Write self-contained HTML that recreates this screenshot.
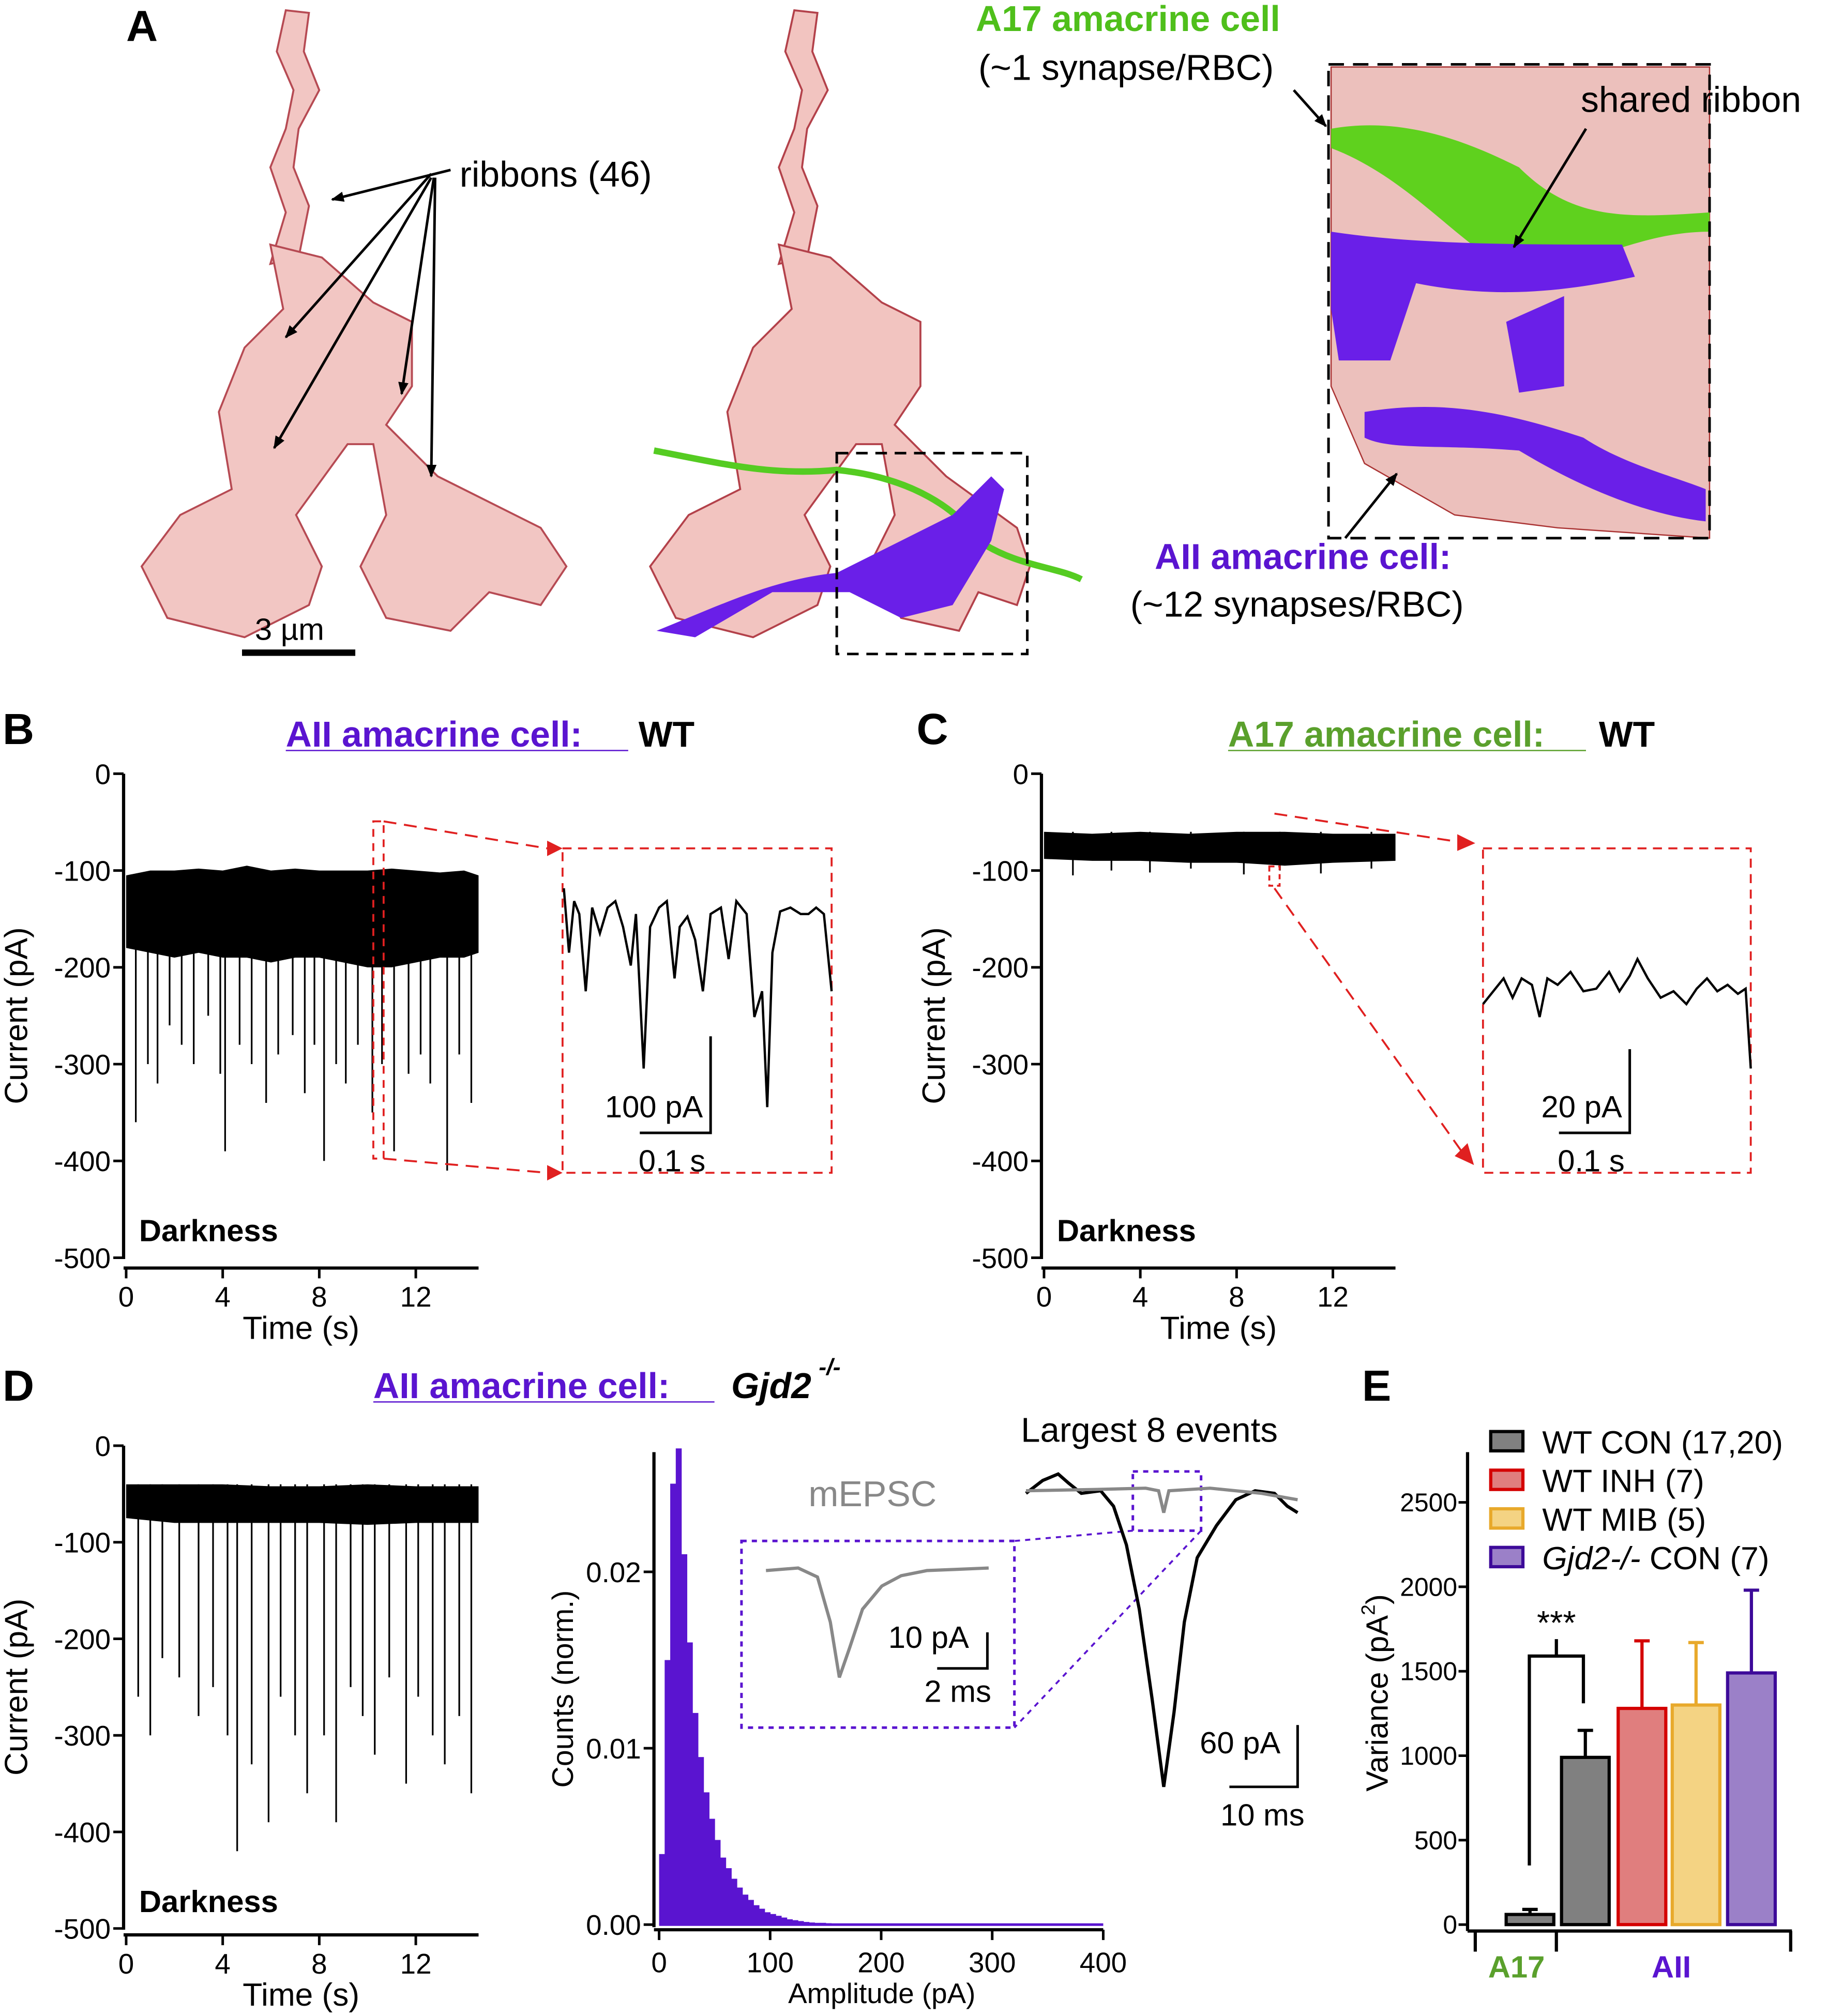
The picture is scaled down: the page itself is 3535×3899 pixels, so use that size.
<!DOCTYPE html>
<html><head><meta charset="utf-8"><style>
html,body{margin:0;padding:0;background:#fff}
svg{display:block}
text{font-family:"Liberation Sans",Arial,sans-serif;fill:#000}
</style></head><body>
<svg id="fig" xmlns="http://www.w3.org/2000/svg" width="3535" height="3899" viewBox="0 0 1420 1566" preserveAspectRatio="none">
<defs><marker id="ah" markerWidth="10" markerHeight="8" refX="9" refY="4" orient="auto" markerUnits="userSpaceOnUse"><path d="M0,0 L10,4 L0,8 Z" fill="#000"/></marker></defs>
<rect width="1420" height="1566" fill="#fff"/>
<g>
<text x="98" y="32" font-size="34" font-weight="bold">A</text>
<g fill="#f2c4c0" stroke="#b3414a" stroke-width="1.5" opacity="0.95">
<path d="M222,8 L240,10 L236,40 L248,70 L232,100 L228,130 L240,160 L232,200 L210,205 L222,165 L210,130 L222,100 L228,70 L215,40 Z"/>
<path d="M210,190 L250,200 L290,235 L320,250 L320,300 L300,330 L340,370 L420,410 L440,440 L420,470 L380,460 L350,490 L300,480 L280,440 L300,400 L290,345 L270,345 L230,400 L250,440 L240,470 L190,495 L130,480 L110,440 L140,400 L180,380 L170,320 L190,270 L220,240 Z"/>
</g>
<g stroke="#000" stroke-width="2" fill="none">
<line x1="350" y1="132" x2="258" y2="155" marker-end="url(#ah)"/><line x1="335" y1="135" x2="222" y2="262" marker-end="url(#ah)"/><line x1="335" y1="138" x2="213" y2="348" marker-end="url(#ah)"/><line x1="337" y1="138" x2="312" y2="306" marker-end="url(#ah)"/><line x1="338" y1="138" x2="335" y2="370" marker-end="url(#ah)"/>
</g>
<text x="357" y="145" font-size="28">ribbons (46)</text>
<line x1="188" y1="507" x2="276" y2="507" stroke="#000" stroke-width="5"/>
<text x="198" y="497" font-size="24">3 µm</text>
<g fill="#f2c4c0" stroke="#b3414a" stroke-width="1.5">
<path d="M617,8 L635,10 L631,40 L643,70 L627,100 L623,130 L635,160 L627,200 L605,205 L617,165 L605,130 L617,100 L623,70 L610,40 Z"/>
<path d="M605,190 L645,200 L685,235 L715,250 L715,300 L695,330 L735,370 L790,410 L800,440 L790,470 L760,460 L745,490 L700,480 L675,440 L695,400 L685,345 L665,345 L625,400 L645,440 L635,470 L585,495 L525,480 L505,440 L535,400 L575,380 L565,320 L585,270 L615,240 Z"/>
</g>
<path d="M508,350 C560,360 600,370 650,365 C700,370 740,390 760,420 C790,440 820,440 840,450" stroke="#55cc22" stroke-width="5" fill="none"/>
<path d="M510,490 C560,470 600,450 650,445 L700,420 L740,400 L770,370 L780,380 L770,420 L740,470 L700,480 L660,460 L600,460 L540,495 Z" fill="#6a1fe8"/>
<rect x="650" y="352" width="148" height="156" fill="none" stroke="#000" stroke-width="2" stroke-dasharray="9,6"/>
<g>
<path d="M1034,52 L1328,52 L1328,418 L1210,410 L1130,400 L1060,360 L1034,300 Z" fill="#ecc0bc" stroke="#a33" stroke-width="1"/>
<path d="M1034,100 C1090,90 1140,110 1180,130 C1220,170 1260,170 1328,165 L1328,180 C1270,180 1230,210 1180,210 C1140,200 1100,140 1034,115 Z" fill="#5fd11e"/>
<path d="M1034,180 C1100,190 1180,190 1260,190 L1270,215 C1200,230 1150,230 1100,220 L1080,280 L1040,280 L1034,240 Z" fill="#6a1fe8"/>
<path d="M1060,320 C1120,310 1170,320 1230,340 C1260,360 1300,370 1325,380 L1325,405 C1280,400 1230,380 1180,350 C1120,345 1080,350 1060,340 Z" fill="#6a1fe8"/>
<path d="M1170,250 L1215,230 L1215,300 L1180,305 Z" fill="#6a1fe8"/>
</g>
<rect x="1032" y="50" width="296" height="368" fill="none" stroke="#000" stroke-width="2" stroke-dasharray="12,7"/>
<text x="758" y="24" font-size="28" font-weight="bold" style="fill:#4fbf1b">A17 amacrine cell</text>
<text x="760" y="62" font-size="28">(~1 synapse/RBC)</text>
<line x1="1005" y1="70" x2="1030" y2="98" stroke="#000" stroke-width="2" marker-end="url(#ah)"/>
<text x="1228" y="87" font-size="28">shared ribbon</text>
<line x1="1232" y1="100" x2="1176" y2="192" stroke="#000" stroke-width="2" marker-end="url(#ah)"/>
<text x="897" y="442" font-size="28" font-weight="bold" style="fill:#5a14d0">AII amacrine cell:</text>
<text x="878" y="479" font-size="28">(~12 synapses/RBC)</text>
<line x1="1045" y1="418" x2="1085" y2="368" stroke="#000" stroke-width="2" marker-end="url(#ah)"/>
</g>
<g id="charts"></g>
</svg>
<script>
const NS='http://www.w3.org/2000/svg';
const root=document.getElementById('charts');
function mk(tag,attrs,name,parent){const e=document.createElementNS(NS,tag);for(const k in attrs)e.setAttribute(k,attrs[k]);


(parent||root).appendChild(e);return e;}
function txt(x,y,s,size,name,opt){const e=mk('text',Object.assign({x:x,y:y,'font-size':size},opt||{}),name);e.textContent=s;return e;}

const timeTicks=[0,4,8,12];
const currentTicks=[0,-100,-200,-300,-400,-500];
const bandTimesB=[0,1,2,3,4,5,6,7,8,9,10,11,12,13,14,14.6];
const bandTopB=[-105,-100,-100,-98,-100,-95,-100,-98,-100,-100,-100,-98,-100,-102,-100,-105];
const bandBotB=[-180,-185,-190,-185,-190,-190,-195,-190,-190,-195,-200,-200,-195,-190,-190,-185];
const eventTimesB=[0.4,0.9,1.3,1.8,2.3,2.8,3.4,3.9,4.1,4.7,5.2,5.8,6.3,6.9,7.4,7.8,8.2,8.7,9.1,9.6,10.2,10.6,11.1,11.7,12.2,12.6,13.3,13.8,14.3];
const eventAmpB=[-360,-300,-320,-260,-280,-300,-250,-310,-390,-280,-300,-340,-290,-270,-330,-280,-400,-300,-320,-280,-350,-300,-390,-310,-290,-320,-410,-290,-340];
const bandTimesC=[0,2,4,6,8,10,12,14.6];
const bandTopC=[-60,-62,-60,-62,-60,-60,-62,-62];
const bandBotC=[-88,-90,-90,-92,-92,-95,-92,-90];
const eventTimesC=[1.2,2.8,4.4,6.1,8.3,9.8,11.5,13.6];
const eventAmpC=[-105,-100,-102,-98,-104,-100,-103,-98];
const bandTimesD=[0,2,4,6,8,10,12,14.6];
const bandTopD=[-40,-40,-40,-42,-42,-40,-42,-42];
const bandBotD=[-75,-80,-80,-80,-80,-82,-80,-80];
const eventTimesD=[0.5,1.0,1.5,2.2,3.0,3.6,4.2,4.6,5.2,5.9,6.4,7.0,7.5,8.2,8.7,9.3,9.8,10.3,10.9,11.6,12.1,12.7,13.2,13.8,14.3];
const eventAmpD=[-260,-300,-220,-240,-280,-250,-300,-420,-330,-390,-260,-300,-360,-300,-390,-250,-280,-320,-240,-350,-260,-300,-330,-280,-360];
const histBinWidth=5;
const histCounts=[0.004,0.015,0.025,0.027,0.021,0.016,0.012,0.0095,0.0075,0.006,0.0048,0.0038,0.0032,0.0026,0.0021,0.0017,0.0014,0.0011,0.0009,0.0007,0.0006,0.0005,0.0004,0.0003,0.00025,0.0002,0.00015,0.00012,0.0001,0.0001,0.00008,0.00006];
const histXTicks=[0,100,200,300,400];
const histYTicks=[0,0.01,0.02];
const barLabels=['WT CON (17,20)','WT INH (7)','WT MIB (5)','Gjd2-/- CON (7)'];
const barValues=[60,990,1280,1300,1490];
const barErrors=[30,160,400,370,490];
const barFills=['#808080','#808080','#e07e7e','#f4d383','#9b80c8'];
const barStrokes=['#000','#000','#d40000','#e8a92b','#3d0a99'];
const varTicks=[0,500,1000,1500,2000,2500];

function tracePanel(opt){
  const g=mk('g',{},opt.name);
  const xs=t=>opt.x0+t*opt.pxs, ys=v=>opt.y0+(-v)*opt.pxpa;
  mk('line',{x1:opt.ax,y1:ys(0),x2:opt.ax,y2:ys(-500)+1,stroke:'#000','stroke-width':2.5},'y-axis',g);
  mk('line',{x1:opt.ax,y1:opt.xaxY,x2:xs(14.6),y2:opt.xaxY,stroke:'#000','stroke-width':2.5},'x-axis',g);
  currentTicks.forEach(v=>{mk('line',{x1:opt.ax-8,y1:ys(v),x2:opt.ax,y2:ys(v),stroke:'#000','stroke-width':2},'y-tick',g);
    const t=txt(opt.ax-10,ys(v)+8,String(v),22,'y-tick-label');t.setAttribute('text-anchor','end');});
  timeTicks.forEach(v=>{mk('line',{x1:xs(v),y1:opt.xaxY,x2:xs(v),y2:opt.xaxY+8,stroke:'#000','stroke-width':2},'x-tick',g);
    const t=txt(xs(v),opt.xaxY+30,String(v),22,'x-tick-label');t.setAttribute('text-anchor','middle');});
  const xt=txt((opt.ax+xs(14.6))/2,opt.xaxY+55,'Time (s)',25,'x-axis-title');xt.setAttribute('text-anchor','middle');
  const ymid=(ys(0)+ys(-500))/2;
  const yt=txt(opt.ax-75,ymid,'Current (pA)',25,'y-axis-title',{transform:'rotate(-90 '+(opt.ax-75)+' '+ymid+')'});
  yt.setAttribute('text-anchor','middle');
  txt(opt.ax+12,ys(-483),'Darkness',24,'darkness-label',{'font-weight':'bold'});
  let d='';opt.bt.forEach((t,i)=>{d+=(i?'L':'M')+xs(t)+','+ys(opt.top[i]);});
  for(let i=opt.bt.length-1;i>=0;i--)d+='L'+xs(opt.bt[i])+','+ys(opt.bot[i]);
  mk('path',{d:d+'Z',fill:'#000'},'trace-band',g);
  opt.et.forEach((t,i)=>mk('line',{x1:xs(t),y1:ys(opt.top[0]),x2:xs(t),y2:ys(opt.ea[i]),stroke:'#000','stroke-width':1.3},'trace-event',g));
  return {xs,ys};
}
tracePanel({name:'panel-b-trace',x0:98,pxs:18.75,y0:601,pxpa:0.752,ax:96,xaxY:985,bt:bandTimesB,top:bandTopB,bot:bandBotB,et:eventTimesB,ea:eventAmpB});
tracePanel({name:'panel-c-trace',x0:811,pxs:18.7,y0:601,pxpa:0.752,ax:809,xaxY:985,bt:bandTimesC,top:bandTopC,bot:bandBotC,et:eventTimesC,ea:eventAmpC});
tracePanel({name:'panel-d-trace',x0:98,pxs:18.75,y0:1123,pxpa:0.75,ax:96,xaxY:1503,bt:bandTimesD,top:bandTopD,bot:bandBotD,et:eventTimesD,ea:eventAmpD});

txt(2,578,'B',34,'panel-b-label',{'font-weight':'bold'});
txt(712,578,'C',34,'panel-c-label',{'font-weight':'bold'});
txt(2,1088,'D',34,'panel-d-label',{'font-weight':'bold'});
txt(1058,1088,'E',34,'panel-e-label',{'font-weight':'bold'});
txt(222,580,'AII amacrine cell:',28,'panel-b-title',{'font-weight':'bold',style:'fill:#5a14d0'});
txt(496,580,'WT',28,'panel-b-genotype',{'font-weight':'bold'});
mk('line',{x1:222,y1:583,x2:488,y2:583,stroke:'#5a14d0','stroke-width':1},'title-underline');
txt(954,580,'A17 amacrine cell:',28,'panel-c-title',{'font-weight':'bold',style:'fill:#5aa02c'});
txt(1242,580,'WT',28,'panel-c-genotype',{'font-weight':'bold'});
mk('line',{x1:954,y1:583,x2:1232,y2:583,stroke:'#5aa02c','stroke-width':1},'title-underline');
txt(290,1086,'AII amacrine cell:',28,'panel-d-title',{'font-weight':'bold',style:'fill:#5a14d0'});
txt(568,1086,'Gjd2',28,'panel-d-genotype',{'font-weight':'bold','font-style':'italic'});
txt(636,1068,'-/-',18,'panel-d-genotype-sup',{'font-weight':'bold','font-style':'italic'});
mk('line',{x1:290,y1:1089,x2:555,y2:1089,stroke:'#5a14d0','stroke-width':1},'title-underline');

function inset(x1,y1,x2,y2,name,pts,sbx,sby,sbh,sl1){
  mk('rect',{x:x1,y:y1,width:x2-x1,height:y2-y1,fill:'none',stroke:'#e02020','stroke-width':1.5,'stroke-dasharray':'7,5'},name+'-box');
  mk('polyline',{points:pts,fill:'none',stroke:'#000','stroke-width':1.8},name+'-trace');
  mk('path',{d:'M'+sbx+','+(sby-sbh)+'V'+sby+'H'+(sbx-55),fill:'none',stroke:'#000','stroke-width':2},name+'-scale-bar');
  const a=txt(sbx-6,sby-12,sl1,24,name+'-scale-amp');a.setAttribute('text-anchor','end');
  txt(sbx-56,sby+30,'0.1 s',24,name+'-scale-time');
}
inset(437,659,646,911,'inset-b','438,690 442,740 446,700 450,710 455,770 460,705 466,725 472,705 478,700 484,720 490,750 494,710 500,830 505,720 512,705 518,700 524,760 528,720 534,712 540,730 546,770 552,710 560,705 566,745 572,700 580,710 586,790 592,770 596,860 600,740 606,708 614,705 622,710 628,710 634,705 640,710 646,770',552,880,75,'100 pA');
inset(1152,659,1360,911,'inset-c','1152,780 1160,770 1168,760 1175,775 1182,760 1190,765 1196,790 1202,760 1210,765 1220,755 1230,770 1240,768 1250,755 1258,770 1266,758 1272,745 1280,760 1290,775 1300,770 1310,780 1318,768 1326,760 1334,770 1342,765 1350,772 1356,768 1360,830',1266,880,65,'20 pA');
mk('path',{d:'M290,638 L298,638 L298,900 L290,900 Z',fill:'none',stroke:'#e02020','stroke-width':1.5,'stroke-dasharray':'6,5'},'zoom-region-b');
mk('path',{d:'M298,638 L425,659 M298,900 L425,911',fill:'none',stroke:'#e02020','stroke-width':1.5,'stroke-dasharray':'10,6'},'zoom-lines-b');
mk('path',{d:'M425,653 L437,659 L425,665Z M425,905 L437,911 L425,917Z',fill:'#e02020'},'zoom-arrowheads-b');
mk('rect',{x:986,y:673,width:8,height:15,fill:'none',stroke:'#e02020','stroke-width':1.5,'stroke-dasharray':'4,3'},'zoom-region-c');
mk('path',{d:'M990,632 L1140,655 M990,690 L1138,898',fill:'none',stroke:'#e02020','stroke-width':1.5,'stroke-dasharray':'10,6'},'zoom-lines-c');
mk('path',{d:'M1132,648 L1146,655 L1132,661Z M1130,898 L1145,905 L1140,888Z',fill:'#e02020'},'zoom-arrowheads-c');

(function(){
  const hx=v=>512+v*0.8625, hy=v=>1495-v*13700;
  const g=mk('g',{},'histogram');
  histCounts.forEach((c,i)=>{mk('rect',{x:hx(i*histBinWidth),y:hy(c),width:hx(histBinWidth)-hx(0)+0.3,height:hy(0)-hy(c),fill:'#5a14d0'},'hist-bar',g);});
  mk('line',{x1:hx(0),y1:hy(0),x2:hx(400),y2:hy(0),stroke:'#5a14d0','stroke-width':2},'hist-tail',g);
  mk('line',{x1:508,y1:1128,x2:508,y2:1497,stroke:'#000','stroke-width':2.5},'hist-y-axis',g);
  mk('line',{x1:508,y1:1499,x2:hx(400),y2:1499,stroke:'#000','stroke-width':2.5},'hist-x-axis',g);
  histYTicks.forEach(v=>{mk('line',{x1:500,y1:hy(v),x2:508,y2:hy(v),stroke:'#000','stroke-width':2},'hist-y-tick',g);
    const t=txt(498,hy(v)+8,v.toFixed(2),22,'hist-y-tick-label');t.setAttribute('text-anchor','end');});
  histXTicks.forEach(v=>{mk('line',{x1:hx(v),y1:1499,x2:hx(v),y2:1507,stroke:'#000','stroke-width':2},'hist-x-tick',g);
    const t=txt(hx(v),1532,String(v),22,'hist-x-tick-label');t.setAttribute('text-anchor','middle');});
  const xt=txt(685,1556,'Amplitude (pA)',22,'hist-x-axis-title');xt.setAttribute('text-anchor','middle');
  const yt=txt(445,1312,'Counts (norm.)',23,'hist-y-axis-title',{transform:'rotate(-90 445 1312)'});yt.setAttribute('text-anchor','middle');
})();
txt(628,1170,'mEPSC',28,'mepsc-label',{style:'fill:#888'});
txt(793,1120,'Largest 8 events',27,'largest-events-label');
mk('rect',{x:576,y:1197,width:212,height:145,fill:'none',stroke:'#5a14d0','stroke-width':2,'stroke-dasharray':'4,4'},'mepsc-zoom-box');
mk('rect',{x:880,y:1143,width:53,height:46,fill:'none',stroke:'#5a14d0','stroke-width':2,'stroke-dasharray':'4,4'},'mepsc-small-box');
mk('path',{d:'M880,1189 L788,1197 M933,1189 L788,1342',fill:'none',stroke:'#5a14d0','stroke-width':1.5,'stroke-dasharray':'4,4'},'mepsc-zoom-lines');
mk('polyline',{points:'595,1220 620,1218 635,1225 645,1260 652,1303 660,1280 670,1250 685,1232 700,1224 720,1220 745,1219 768,1218',fill:'none',stroke:'#888','stroke-width':2.5},'mepsc-zoomed-trace');
mk('path',{d:'M767,1268 V1296 H728',fill:'none',stroke:'#000','stroke-width':2},'mepsc-scale-bar');
txt(690,1280,'10 pA',24,'mepsc-scale-amp');txt(718,1322,'2 ms',24,'mepsc-scale-time');
mk('polyline',{points:'797,1160 810,1150 822,1145 830,1152 840,1160 855,1158 865,1170 875,1200 885,1250 895,1320 904,1388 912,1330 920,1260 930,1210 945,1185 960,1165 975,1158 990,1160 1000,1170 1008,1175',fill:'none',stroke:'#000','stroke-width':2.5},'largest-event-trace');
mk('polyline',{points:'797,1158 850,1157 890,1156 900,1158 904,1175 908,1158 940,1156 980,1160 1008,1165',fill:'none',stroke:'#888','stroke-width':2.5},'mepsc-trace');
mk('path',{d:'M1008,1340 V1388 H955',fill:'none',stroke:'#000','stroke-width':2},'event-scale-bar');
txt(932,1362,'60 pA',24,'event-scale-amp');txt(948,1418,'10 ms',24,'event-scale-time');

(function(){
  const vy=v=>1495-v*0.1312;
  const g=mk('g',{},'variance-chart');
  const barX=[1170,1213,1257,1299,1342], bw=37;
  mk('line',{x1:1140,y1:1128,x2:1140,y2:1500,stroke:'#000','stroke-width':2.5},'e-y-axis',g);
  mk('line',{x1:1140,y1:1500,x2:1392,y2:1500,stroke:'#000','stroke-width':2.5},'e-x-axis',g);
  [1146,1209,1391].forEach(x=>mk('line',{x1:x,y1:1500,x2:x,y2:1516,stroke:'#000','stroke-width':2.5},'e-group-tick',g));
  varTicks.forEach(v=>{mk('line',{x1:1133,y1:vy(v),x2:1140,y2:vy(v),stroke:'#000','stroke-width':2},'e-y-tick',g);
    const t=txt(1132,vy(v)+7,String(v),20,'e-y-tick-label');t.setAttribute('text-anchor','end');});
  barValues.forEach((v,i)=>{
    const cx=barX[i]+bw/2;
    mk('line',{x1:cx,y1:vy(v),x2:cx,y2:vy(v+barErrors[i]),stroke:barStrokes[i],'stroke-width':2.5},'e-error-bar',g);
    mk('line',{x1:cx-6,y1:vy(v+barErrors[i]),x2:cx+6,y2:vy(v+barErrors[i]),stroke:barStrokes[i],'stroke-width':2.5},'e-error-cap',g);
    mk('rect',{x:barX[i],y:vy(v),width:bw,height:vy(0)-vy(v),fill:barFills[i],stroke:barStrokes[i],'stroke-width':2.5},'e-bar',g);
  });
  mk('path',{d:'M1188,'+vy(350)+' V'+vy(1590)+' H1230 V'+vy(1310)+' M1209,'+vy(1590)+' V'+vy(1690),fill:'none',stroke:'#000','stroke-width':2.5},'significance-bracket',g);
  const s=txt(1209,vy(1720),'***',26,'significance-stars');s.setAttribute('text-anchor','middle');
  const yt=txt(1078,1315,'',24,'e-y-axis-title',{transform:'rotate(-90 1078 1315)'});
  yt.innerHTML='Variance (pA<tspan font-size="15" dy="-10">2</tspan><tspan dy="10">)</tspan>';
  yt.setAttribute('text-anchor','middle');
  txt(1156,1536,'A17',24,'a17-group-label',{'font-weight':'bold',style:'fill:#5aa02c'});
  txt(1283,1536,'AII',24,'aii-group-label',{'font-weight':'bold',style:'fill:#5a14d0'});
  barLabels.forEach((l,i)=>{
    const y=1112+i*30;
    mk('rect',{x:1158,y:y,width:25,height:15,fill:barFills[i+1],stroke:barStrokes[i+1],'stroke-width':2.5},'legend-swatch',g);
    if(i===3){const t=txt(1198,y+17,'',25,'legend-entry');t.innerHTML='<tspan font-style="italic">Gjd2-/-</tspan> CON (7)';}
    else txt(1198,y+17,l,25,'legend-entry');
  });
})();
</script>
</body></html>
